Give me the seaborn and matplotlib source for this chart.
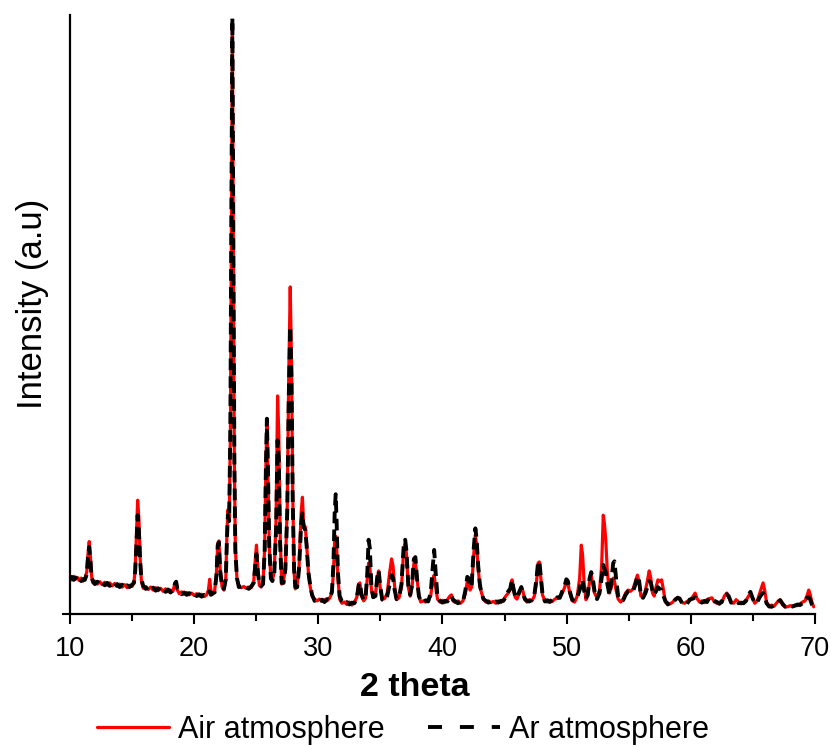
import matplotlib
matplotlib.use("Agg")
import matplotlib.pyplot as plt
from matplotlib.lines import Line2D
import seaborn as sns
import pandas as pd

# Diffraction angle (degrees 2θ)
two_theta = [
    10.00, 10.15, 10.30, 10.45, 10.60, 10.75, 10.90, 11.05, 11.20, 11.35,
    11.45, 11.55, 11.65, 11.75, 11.85, 12.00, 12.20, 12.40, 12.60, 12.80,
    13.00, 13.20, 13.40, 13.60, 13.80, 14.00, 14.20, 14.40, 14.60, 14.80,
    15.00, 15.15, 15.25, 15.35, 15.45, 15.55, 15.65, 15.75, 15.90, 16.10,
    16.30, 16.50, 16.70, 16.90, 17.10, 17.30, 17.50, 17.70, 17.90, 18.10,
    18.30, 18.45, 18.55, 18.65, 18.80, 19.00, 19.20, 19.40, 19.60, 19.80,
    20.00, 20.20, 20.40, 20.60, 20.80, 21.00, 21.15, 21.25, 21.35, 21.50,
    21.65, 21.80, 21.90, 22.00, 22.10, 22.25, 22.40, 22.55, 22.65, 22.72,
    22.82, 22.92, 23.00, 23.08, 23.16, 23.24, 23.32, 23.45, 23.60, 23.80,
    24.00, 24.20, 24.40, 24.60, 24.80, 24.92, 25.02, 25.12, 25.25, 25.40,
    25.55, 25.68, 25.78, 25.86, 25.94, 26.05, 26.18, 26.30, 26.45, 26.60,
    26.72, 26.82, 26.92, 27.05, 27.20, 27.35, 27.50, 27.62, 27.74, 27.84,
    27.94, 28.05, 28.15, 28.30, 28.45, 28.62, 28.72, 28.82, 28.96, 29.08,
    29.20, 29.35, 29.50, 29.70, 29.90, 30.10, 30.30, 30.50, 30.70, 30.90,
    31.10, 31.22, 31.32, 31.40, 31.48, 31.58, 31.72, 31.90, 32.10, 32.30,
    32.50, 32.70, 32.90, 33.10, 33.25, 33.35, 33.48, 33.65, 33.80, 33.95,
    34.05, 34.15, 34.28, 34.42, 34.60, 34.75, 34.86, 34.98, 35.15, 35.35,
    35.55, 35.75, 35.90, 36.02, 36.15, 36.30, 36.50, 36.70, 36.88, 37.00,
    37.10, 37.25, 37.40, 37.55, 37.70, 37.82, 37.95, 38.10, 38.25, 38.45,
    38.65, 38.85, 39.05, 39.22, 39.33, 39.45, 39.60, 39.80, 40.00, 40.20,
    40.40, 40.60, 40.72, 40.85, 41.05, 41.25, 41.45, 41.65, 41.85, 42.00,
    42.10, 42.22, 42.35, 42.52, 42.65, 42.75, 42.88, 43.02, 43.15, 43.30,
    43.50, 43.70, 43.90, 44.10, 44.30, 44.50, 44.70, 44.90, 45.10, 45.30,
    45.45, 45.60, 45.72, 45.85, 46.00, 46.20, 46.35, 46.48, 46.62, 46.80,
    47.00, 47.20, 47.40, 47.58, 47.70, 47.80, 47.92, 48.05, 48.25, 48.45,
    48.65, 48.85, 49.05, 49.25, 49.45, 49.65, 49.85, 49.98, 50.10, 50.25,
    50.45, 50.65, 50.85, 51.05, 51.18, 51.28, 51.40, 51.55, 51.70, 51.85,
    51.98, 52.10, 52.25, 52.45, 52.65, 52.82, 52.95, 53.05, 53.15, 53.28,
    53.45, 53.60, 53.75, 53.85, 53.98, 54.15, 54.35, 54.55, 54.75, 54.95,
    55.15, 55.35, 55.55, 55.70, 55.82, 55.98, 56.15, 56.35, 56.50, 56.65,
    56.78, 56.92, 57.05, 57.20, 57.35, 57.50, 57.65, 57.80, 57.95, 58.15,
    58.35, 58.55, 58.75, 58.95, 59.10, 59.30, 59.50, 59.70, 59.90, 60.05,
    60.20, 60.35, 60.50, 60.70, 60.90, 61.10, 61.30, 61.50, 61.70, 61.90,
    62.10, 62.30, 62.50, 62.70, 62.90, 63.05, 63.25, 63.45, 63.65, 63.85,
    64.05, 64.25, 64.45, 64.65, 64.80, 64.95, 65.15, 65.35, 65.55, 65.70,
    65.82, 65.95, 66.10, 66.30, 66.50, 66.70, 66.90, 67.05, 67.20, 67.40,
    67.60, 67.80, 68.00, 68.20, 68.40, 68.60, 68.80, 69.00, 69.20, 69.35,
    69.50, 69.62, 69.75, 69.90,
]

# Intensity of the sample calcined in air (arbitrary units)
air_intensity = [
    62, 57, 63, 58, 61, 56, 60, 55, 59, 70,
    100, 121, 95, 62, 52, 55, 50, 54, 49, 53,
    48, 52, 47, 51, 46, 50, 45, 49, 44, 48,
    46, 52, 75, 130, 190, 160, 95, 55, 43, 46,
    41, 45, 40, 44, 39, 43, 38, 42, 37, 40,
    38, 52, 53, 40, 34, 37, 33, 36, 32, 35,
    31, 34, 30, 33, 29, 32, 40, 58, 40, 33,
    38, 70, 118, 122, 75, 45, 40, 60, 140, 174,
    160, 300, 650, 985, 620, 250, 110, 58, 47, 44,
    46, 43, 45, 44, 55, 90, 115, 80, 48, 45,
    52, 110, 250, 324, 240, 110, 58, 56, 70, 160,
    364, 300, 140, 50, 55, 80, 180, 400, 546, 420,
    200, 70, 42, 48, 80, 170, 195, 150, 145, 110,
    70, 45, 30, 25, 22, 25, 21, 24, 22, 26,
    35, 70, 125, 130, 110, 60, 25, 18, 20, 16,
    20, 15, 19, 28, 50, 52, 30, 22, 26, 60,
    85, 80, 40, 28, 32, 60, 72, 45, 24, 26,
    35, 70, 92, 80, 45, 24, 27, 45, 110, 118,
    100, 45, 30, 45, 85, 87, 60, 30, 20, 22,
    20, 23, 30, 55, 65, 45, 25, 20, 23, 19,
    24, 30, 32, 22, 19, 22, 18, 22, 35, 55,
    57, 40, 45, 100, 132, 115, 75, 45, 35, 25,
    20, 22, 19, 21, 18, 22, 19, 23, 30, 35,
    40, 57, 45, 28, 25, 35, 45, 38, 24, 20,
    24, 22, 30, 55, 85, 87, 60, 32, 22, 20,
    23, 21, 25, 26, 28, 35, 45, 57, 52, 35,
    22, 20, 30, 60, 115, 100, 55, 24, 30, 55,
    65, 50, 35, 27, 40, 80, 165, 150, 124, 70,
    35, 45, 60, 55, 40, 25, 20, 25, 35, 40,
    38, 42, 55, 65, 55, 30, 28, 40, 55, 72,
    60, 35, 30, 45, 57, 55, 57, 40, 20, 18,
    17, 20, 25, 28, 25, 19, 18, 21, 22, 26,
    30, 35, 26, 20, 22, 19, 24, 26, 27, 20,
    18, 20, 19, 30, 35, 28, 20, 18, 24, 20,
    17, 20, 23, 30, 35, 28, 18, 22, 35, 45,
    52, 40, 20, 12, 15, 13, 18, 22, 24, 15,
    13, 12, 14, 12, 15, 14, 17, 20, 22, 30,
    40, 32, 20, 12,
]

# Intensity of the sample calcined under argon (arbitrary units)
ar_intensity = [
    58, 62, 57, 61, 56, 60, 55, 58, 57, 66,
    95, 112, 88, 60, 55, 50, 54, 49, 53, 48,
    52, 47, 51, 46, 50, 45, 49, 44, 48, 45,
    49, 52, 70, 115, 165, 140, 90, 58, 47, 42,
    45, 40, 44, 39, 43, 38, 42, 37, 41, 36,
    40, 50, 54, 42, 38, 33, 36, 32, 35, 31,
    34, 30, 33, 29, 32, 30, 33, 38, 32, 35,
    36, 65, 115, 120, 72, 45, 42, 58, 130, 165,
    155, 320, 680, 995, 640, 260, 105, 60, 45, 46,
    43, 45, 42, 46, 52, 80, 100, 72, 50, 47,
    50, 105, 245, 326, 250, 115, 60, 55, 65, 140,
    290, 260, 120, 52, 52, 75, 170, 360, 480, 400,
    190, 75, 45, 45, 75, 150, 168, 145, 140, 108,
    70, 48, 32, 22, 25, 21, 24, 20, 25, 24,
    38, 85, 170, 200, 150, 70, 30, 21, 17, 20,
    16, 19, 18, 26, 48, 52, 32, 24, 25, 70,
    124, 110, 45, 28, 30, 62, 73, 48, 24, 22,
    30, 50, 65, 60, 40, 25, 28, 50, 115, 124,
    105, 48, 32, 50, 92, 95, 60, 30, 22, 19,
    23, 21, 35, 80, 107, 70, 28, 22, 19, 22,
    21, 28, 30, 24, 21, 18, 21, 20, 40, 62,
    60, 45, 48, 110, 143, 125, 80, 48, 35, 25,
    22, 19, 21, 18, 21, 19, 22, 22, 28, 38,
    42, 57, 42, 30, 27, 38, 45, 35, 26, 22,
    21, 24, 32, 60, 87, 88, 62, 35, 21, 23,
    20, 24, 22, 28, 27, 38, 48, 58, 55, 38,
    24, 22, 28, 40, 55, 57, 40, 26, 32, 60,
    70, 60, 38, 25, 35, 60, 82, 75, 70, 50,
    32, 55, 85, 88, 60, 30, 22, 23, 32, 38,
    40, 38, 50, 63, 58, 32, 27, 35, 45, 55,
    52, 38, 32, 38, 45, 42, 40, 30, 22, 16,
    19, 18, 24, 27, 26, 18, 20, 17, 24, 25,
    26, 28, 24, 22, 19, 22, 20, 27, 25, 22,
    20, 17, 21, 30, 33, 30, 19, 21, 22, 18,
    19, 18, 22, 32, 37, 28, 18, 20, 28, 33,
    35, 30, 18, 13, 12, 15, 16, 20, 23, 17,
    12, 14, 12, 13, 14, 16, 15, 18, 23, 27,
    28, 24, 16, 12,
]

series_labels = ["Air atmosphere", "Ar atmosphere"]
x_ticks = [10, 20, 30, 40, 50, 60, 70]

sns.set_style("ticks")
plt.rcParams["font.family"] = ["Liberation Sans", "DejaVu Sans"]
plt.rcParams["text.color"] = "black"
plt.rcParams["axes.labelcolor"] = "black"

df = pd.DataFrame({"two_theta": two_theta, "air": air_intensity, "ar": ar_intensity})

fig = plt.figure(figsize=(8.31, 7.47), dpi=100)
ax = fig.add_axes([0.0842, 0.178, 0.8965, 0.802])

sns.lineplot(data=df, x="two_theta", y="air", ax=ax, color="#ff0000",
             linewidth=2.3, sort=False)
sns.lineplot(data=df, x="two_theta", y="ar", ax=ax, color="black",
             linewidth=2.8, sort=False)
ax.lines[1].set_dashes((3.0, 1.6))

ax.set_xlim(10, 70)
ax.set_ylim(0, 1000)
ax.set_xticks(x_ticks)
ax.set_xticks([15, 25, 35, 45, 55, 65], minor=True)
ax.set_yticks([0])
ax.set_yticklabels([])
ax.tick_params(axis="x", which="major", length=7, width=1.5, direction="out",
               labelsize=19.5, pad=9, colors="black")
ax.tick_params(axis="x", which="minor", length=5, width=1.5, direction="out",
               colors="black")
ax.tick_params(axis="y", which="major", length=6, width=1.5, direction="out",
               colors="black")

for side in ("top", "right"):
    ax.spines[side].set_visible(False)
for side in ("left", "bottom"):
    ax.spines[side].set_linewidth(1.6)
    ax.spines[side].set_color("black")

ax.set_xlabel("2 theta", fontsize=24.5, fontweight="bold", va="top")
ax.xaxis.set_label_coords(0.463, -0.096)
ax.set_ylabel("Intensity (a.u)", fontsize=25)
ax.yaxis.set_label_coords(-0.028, 0.517)

legend_handles = [
    Line2D([], [], color="#ff0000", linewidth=2.3),
    Line2D([], [], color="black", linewidth=2.8, dashes=(3.6, 4.6)),
]
fig.legend(legend_handles, series_labels, loc="center", bbox_to_anchor=(0.485, 0.023),
           ncol=2, frameon=False, fontsize=22, handlelength=2.35, handletextpad=0.3,
           columnspacing=1.4, borderaxespad=0)

fig.savefig("out.png", dpi=100)
